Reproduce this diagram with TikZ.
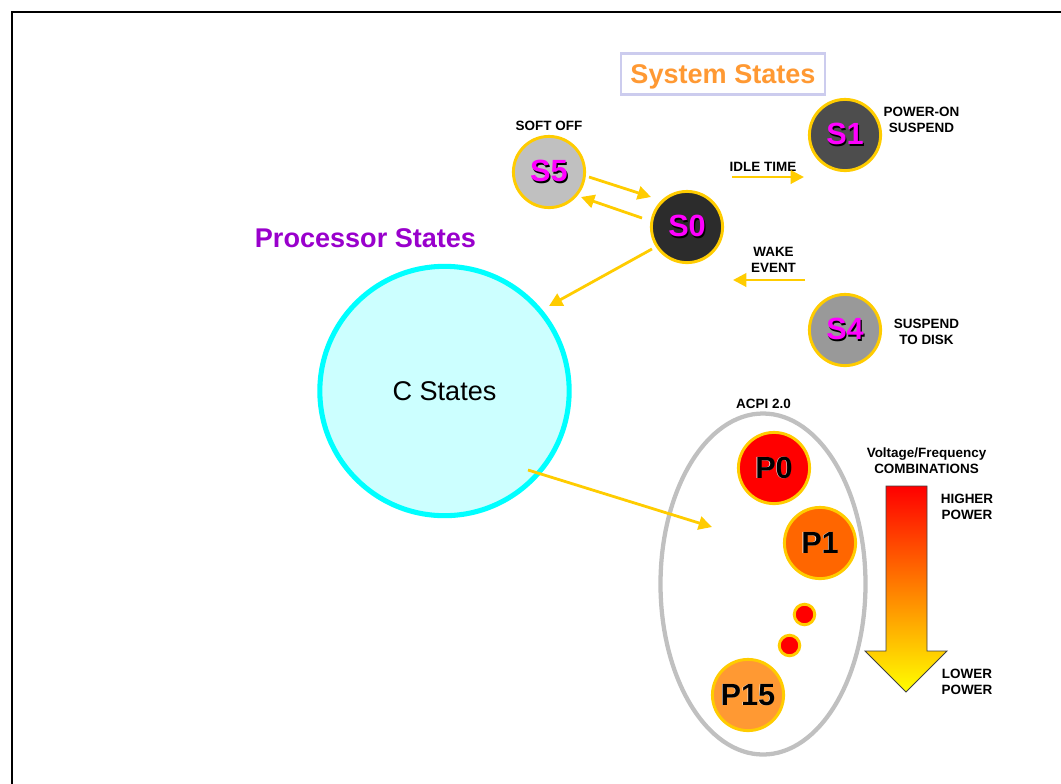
\documentclass[tikz,border=0pt]{standalone}
\usepackage{fontspec}
\setmainfont{Liberation Sans}
\usetikzlibrary{arrows.meta}
\definecolor{amber}{HTML}{FFCC00}
\definecolor{mag}{HTML}{FF00FF}
\definecolor{aqua}{HTML}{00FFFF}
\newcommand{\dropped}[1]{\makebox[0pt][l]{\kern0.9pt\raisebox{-0.9pt}{\textcolor{black}{#1}}}\textcolor{mag}{#1}}
\newcommand{\edged}[1]{\makebox[0pt][l]{\kern-0.5pt\raisebox{-0.6pt}{\textcolor{white}{#1}}}\textcolor{black}{#1}}
\tikzset{
  x=0.75pt,y=-0.75pt,
  every node/.style={inner sep=0pt,outer sep=0pt,align=center},
  statecirc/.style={circle,draw=amber,line width=2.2pt,minimum size=53.4pt,font=\bfseries\fontsize{23}{26}\selectfont},
  dotcirc/.style={circle,draw=amber,line width=2.2pt,fill=red,minimum size=15.4pt},
  lab/.style={font=\bfseries\fontsize{10.1}{12}\selectfont,text=black},
  flow/.style={draw=amber,line width=2.1pt,-{Triangle[length=10pt,width=10pt]}},
  headline/.style={font=\bfseries\fontsize{20.3}{24}\selectfont},
}
\begin{document}
\begin{tikzpicture}
\useasboundingbox (0,0) rectangle (1061,783);
\draw[black,line width=1.5pt] (12,790) -- (12,12) -- (1070,12);
% titles
\node[draw={rgb,255:red,204;green,204;blue,238},line width=2pt,minimum width=153pt,minimum height=30.5pt,headline,text height=14.5pt,text depth=0pt,text={rgb,255:red,255;green,153;blue,51}] (title) at (723,74) {System States};
\node[headline,text={rgb,255:red,153;green,0;blue,204}] (proc) at (365.5,238) {Processor States};
% C states
\node[circle,draw=aqua,fill={rgb,255:red,204;green,255;blue,255},line width=3.8pt,minimum size=187pt,font=\fontsize{20.3}{24}\selectfont] (cst) at (444.5,391) {C States};
% P ellipse
\draw[draw={rgb,255:red,192;green,192;blue,192},line width=3.2pt] (763,584) ellipse (102.5 and 170.5);
\coordinate (ptarget) at (712,527);
% system state circles
\node[statecirc,fill={rgb,255:red,192;green,192;blue,192}] (s5) at (549,172) {\dropped{S5}};
\node[statecirc,fill={rgb,255:red,44;green,44;blue,44}] (s0) at (687,227) {\dropped{S0}};
\node[statecirc,fill={rgb,255:red,77;green,77;blue,77}] (s1) at (845,135) {\dropped{S1}};
\node[statecirc,fill={rgb,255:red,153;green,153;blue,153}] (s4) at (845,330) {\dropped{S4}};
% performance state circles
\node[statecirc,fill=red] (p0) at (774,468) {\edged{P0}};
\node[statecirc,fill={rgb,255:red,255;green,102;blue,0}] (p1) at (820,543) {\edged{P1}};
\node[statecirc,fill={rgb,255:red,255;green,153;blue,51}] (p15) at (748,695) {\edged{P15}};
\node[dotcirc] (d1) at (804.5,614.5) {};
\node[dotcirc] (d2) at (789.5,645.5) {};
% labels
\node[lab] (softoff) at (549,126) {SOFT OFF};
\node[lab] (poweron) at (921.5,120) {POWER-ON\\SUSPEND};
\node[lab] (idle) at (763,167) {IDLE TIME};
\node[lab] (wake) at (773.5,260) {WAKE\\EVENT};
\node[lab] (susp) at (926.5,332) {SUSPEND\\TO DISK};
\node[lab] (acpi) at (763.5,404) {ACPI 2.0};
\node[lab] (vf) at (926.5,461) {Voltage/Frequency\\COMBINATIONS};
\node[lab] (hp) at (967,507) {HIGHER\\POWER};
\node[lab] (lp) at (967,682) {LOWER\\POWER};
% connectors
\coordinate (a1) at (589,177); \coordinate (a2) at (651,197);
\coordinate (b1) at (642,218); \coordinate (b2) at (581,197);
\coordinate (c1) at (652,249); \coordinate (c2) at (549,306);
\coordinate (i1) at (732,177); \coordinate (i2) at (804,177);
\coordinate (w1) at (805,280); \coordinate (w2) at (733,280);
\coordinate (e1) at (528,470);
\draw[flow] (a1) -- (a2);
\draw[flow] (b1) -- (b2);
\draw[flow] (c1) -- (c2);
\draw[flow] (i1) -- (i2);
\draw[flow] (w1) -- (w2);
\draw[flow] (e1) -- (ptarget);
% power arrow
\path[draw=black!75,line width=0.7pt,top color=red,bottom color=yellow,middle color={rgb,255:red,255;green,128;blue,0}]
  (886,486) -- (927,486) -- (927,651) -- (947,651) -- (906,692) -- (865,651) -- (886,651) -- cycle;
\end{tikzpicture}
\end{document}
